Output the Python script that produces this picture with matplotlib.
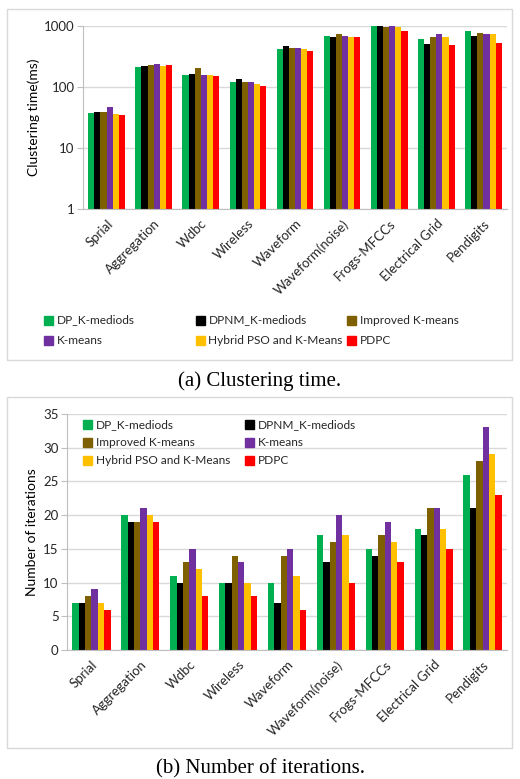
import numpy as np
import matplotlib
matplotlib.use("Agg")
import matplotlib.pyplot as plt
from matplotlib.patches import Rectangle

plt.rcParams['font.family'] = ['Lato', 'DejaVu Sans']

datasets = ["Sprial", "Aggregation", "Wdbc", "Wireless", "Waveform",
            "Waveform(noise)", "Frogs-MFCCs", "Electrical Grid", "Pendigits"]
methods = ["DP_K-mediods", "DPNM_K-mediods", "Improved K-means",
           "K-means", "Hybrid PSO and K-Means", "PDPC"]
colors = ["#00B050", "#000000", "#7F6000", "#7030A0", "#FFC000", "#FF0000"]

# clustering time (ms), one list per method
time_dp = [37, 213, 155, 119, 415, 676, 1000, 614, 818]
time_dpnm = [39, 218, 160, 132, 458, 660, 1000, 495, 685]
time_improved = [39, 224, 202, 119, 435, 725, 955, 660, 760]
time_kmeans = [47, 235, 155, 119, 435, 676, 990, 731, 725]
time_hybrid = [36, 218, 155, 113, 415, 660, 955, 660, 725]
time_pdpc = [34, 224, 150, 103, 381, 645, 830, 480, 515]

# number of iterations
iter_dp = [7, 20, 11, 10, 10, 17, 15, 18, 26]
iter_dpnm = [7, 19, 10, 10, 7, 13, 14, 17, 21]
iter_improved = [8, 19, 13, 14, 14, 16, 17, 21, 28]
iter_kmeans = [9, 21, 15, 13, 15, 20, 19, 21, 33]
iter_hybrid = [7, 20, 12, 10, 11, 17, 16, 18, 29]
iter_pdpc = [6, 19, 8, 8, 6, 10, 13, 15, 23]

times = [time_dp, time_dpnm, time_improved, time_kmeans, time_hybrid, time_pdpc]
iters = [iter_dp, iter_dpnm, iter_improved, iter_kmeans, iter_hybrid, iter_pdpc]

W, H = 520, 779
fig = plt.figure(figsize=(W / 100, H / 100), dpi=100)

def fx(px):
    return px / W

def fy(py):
    return 1 - py / H

def box(x0, y0, x1, y1):
    fig.patches.append(Rectangle((fx(x0), fy(y1)), fx(x1 - x0), (y1 - y0) / H,
                                 transform=fig.transFigure, fill=False,
                                 edgecolor="#D9D9D9", lw=1))

def style(ax):
    for s in ["top", "right"]:
        ax.spines[s].set_visible(False)
    ax.spines["left"].set_color("#BFBFBF")
    ax.spines["bottom"].set_color("#BFBFBF")
    ax.grid(axis="y", color="#D9D9D9", lw=1)
    ax.set_axisbelow(True)
    ax.tick_params(axis="y", length=4, color="#BFBFBF", labelsize=9.5, pad=2,
                   labelcolor="#262626")
    ax.tick_params(axis="x", length=0, labelsize=9.5, pad=6, labelcolor="#262626")
    ax.set_xticks(x)
    ax.set_xticklabels(datasets, rotation=45, ha="right", rotation_mode="anchor")
    ax.set_xlim(-0.5, len(datasets) - 0.5)

def legend(items, x0, y0, colw, rowh, ncol):
    for i, (name, c) in enumerate(items):
        r, k = divmod(i, ncol)
        px, py = x0 + k * colw, y0 + r * rowh
        fig.patches.append(Rectangle((fx(px), fy(py + 4.5)), fx(9), 9 / H,
                                     transform=fig.transFigure, color=c))
        fig.text(fx(px + 13), fy(py), name, fontsize=8.6, va="center",
                 color="#262626")

x = np.arange(len(datasets))
bw = 0.13
offs = (np.arange(6) - 2.5) * bw

# (a) clustering time
box(7, 9, 512, 360)
ax1 = fig.add_axes([fx(83), fy(209), fx(507 - 83), (209 - 25.7) / H])
for vals, c, off in zip(times, colors, offs):
    ax1.bar(x + off, vals, bw, color=c, log=True)
ax1.set_ylim(1, 1000)
ax1.set_yticks([1, 10, 100, 1000])
ax1.set_yticklabels(["1", "10", "100", "1000"])
ax1.minorticks_off()
style(ax1)
ax1.set_ylabel("Clustering time(ms)", fontsize=10)
ax1.yaxis.set_label_coords(fx(40 - 83) / fx(507 - 83), 0.5)
legend(list(zip(methods, colors)), 44, 320, 151.5, 20, 3)
fig.text(0.5, fy(381), "(a) Clustering time.", ha="center", va="center",
         fontsize=15, family="Liberation Serif")

# (b) number of iterations
box(7, 397, 512, 748)
ax2 = fig.add_axes([fx(67), fy(650), fx(507 - 67), (650 - 414) / H])
for vals, c, off in zip(iters, colors, offs):
    ax2.bar(x + off, vals, bw, color=c)
ax2.set_ylim(0, 35)
ax2.set_yticks(range(0, 36, 5))
style(ax2)
ax2.set_ylabel("Number of iterations", fontsize=10)
ax2.yaxis.set_label_coords(fx(38 - 67) / fx(507 - 67), 0.5)
legend(list(zip(methods, colors)), 83, 424.5, 162, 18, 2)
fig.text(0.5, fy(769), "(b) Number of iterations.", ha="center", va="center",
         fontsize=15, family="Liberation Serif")

fig.savefig("out.png", dpi=100)
